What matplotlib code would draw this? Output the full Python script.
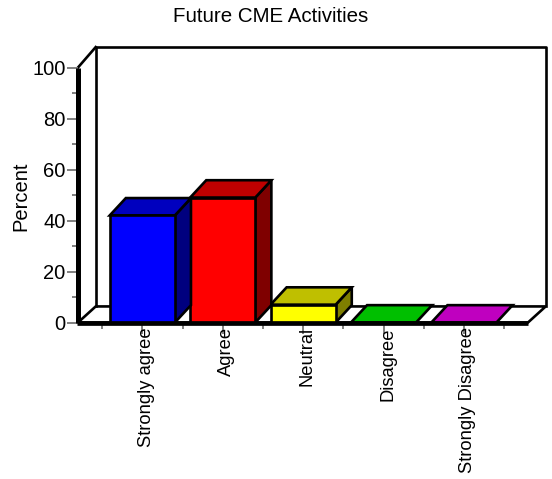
import matplotlib
matplotlib.use("Agg")
import matplotlib.pyplot as plt
from matplotlib.patches import Polygon
from matplotlib.transforms import ScaledTranslation

plt.rcParams['font.family'] = ['Liberation Sans', 'DejaVu Sans']

categories = ['Strongly agree', 'Agree', 'Neutral', 'Disagree', 'Strongly Disagree']
percents = [42, 49, 7, 0, 0]
front_colors = ['#0000ff', '#ff0000', '#ffff00', '#00ff00', '#ff00ff']
top_colors = ['#0000bf', '#bf0000', '#bfbf00', '#00bf00', '#bf00bf']
side_colors = ['#00007f', '#7f0000', '#7f7f00', '#007f00', '#7f007f']
y_ticks = [0, 20, 40, 60, 80, 100]
y_minor = [10, 30, 50, 70, 90]
x_minor = [-0.5, 0.5, 1.5, 2.5, 3.5, 4.5]

W, H = 552, 479
fig = plt.figure(figsize=(W / 100, H / 100), dpi=100)
# plot box in pixels: x 78-528, y 67-322
ax = fig.add_axes([78 / W, 1 - 322.5 / H, 450 / W, 255 / H])
x0, x1 = -0.8, 4.797
ax.set_xlim(x0, x1)
ax.set_ylim(0, 100)
ax.patch.set_visible(False)
for s in ax.spines.values():
    s.set_visible(False)

# depth of the fake 3d box and bars, in data units
wall_dx, floor_dy, top_dy = 0.22, 6.3, 8.0
bar_dx, bar_dy = 0.2, 6.8
bar_w = 0.81
thin = 1.9


def poly(pts, color, z):
    ax.add_patch(Polygon(pts, closed=True, facecolor=color, edgecolor='black',
                         linewidth=thin, joinstyle='miter', clip_on=False, zorder=z))


# floor and back wall
poly([(x0, 0), (x0 + wall_dx, floor_dy), (x1 + wall_dx, floor_dy), (x1, 0)], 'white', 1)
ax.plot([x0 + wall_dx, x0 + wall_dx, x1 + wall_dx, x1 + wall_dx],
        [floor_dy, 100 + top_dy, 100 + top_dy, floor_dy],
        color='black', lw=thin, clip_on=False, zorder=1)
ax.plot([x0, x0 + wall_dx], [100, 100 + top_dy], color='black', lw=thin, clip_on=False, zorder=1)

for i, val in enumerate(percents):
    left, right = i - bar_w / 2, i + bar_w / 2
    z = 3 + (len(percents) - i) * 0.1
    if val > 0:
        poly([(right, 0), (right + bar_dx, bar_dy), (right + bar_dx, val + bar_dy), (right, val)],
             side_colors[i], z)
    poly([(left, val), (left + bar_dx, val + bar_dy), (right + bar_dx, val + bar_dy), (right, val)],
         top_colors[i], z)
    if val > 0:
        ax.bar(i, val, width=bar_w, color=front_colors[i], edgecolor='black',
               linewidth=thin, zorder=z + 0.05)

# heavy front axes
ax.plot([x0, x0], [0, 100], color='black', lw=3.6, solid_capstyle='butt', clip_on=False, zorder=6)
ax.plot([x0 - 0.012, x1], [0, 0], color='black', lw=3.4, solid_capstyle='butt', clip_on=False, zorder=6)

ax.set_yticks(y_ticks)
ax.set_yticks(y_minor, minor=True)
ax.set_xticks(range(len(categories)))
ax.set_xticklabels(categories, rotation=90, fontsize=13.2)
ax.set_xticks(x_minor, minor=True)
ax.tick_params(axis='y', which='major', length=8, width=1.4, color='#808080', labelsize=14.5, pad=1)
ax.tick_params(axis='y', which='minor', length=4.3, width=1.4, color='#808080')
ax.tick_params(axis='x', which='major', length=8, width=1.4, color='#808080', pad=-4.5)
ax.tick_params(axis='x', which='minor', length=4.3, width=1.4, color='#808080')
shift = ScaledTranslation(4 / 100, 0, fig.dpi_scale_trans)
for lbl in ax.get_xticklabels():
    lbl.set_transform(lbl.get_transform() + shift)
    lbl.set_zorder(8)

fig.text(21 / W, 1 - 196 / H, 'Percent', fontsize=14.5, rotation=90, ha='center', va='center')
fig.text(271 / W, 1 - 16.5 / H, 'Future CME Activities', fontsize=14.8, ha='center', va='center')

fig.savefig('out.png', dpi=100)
